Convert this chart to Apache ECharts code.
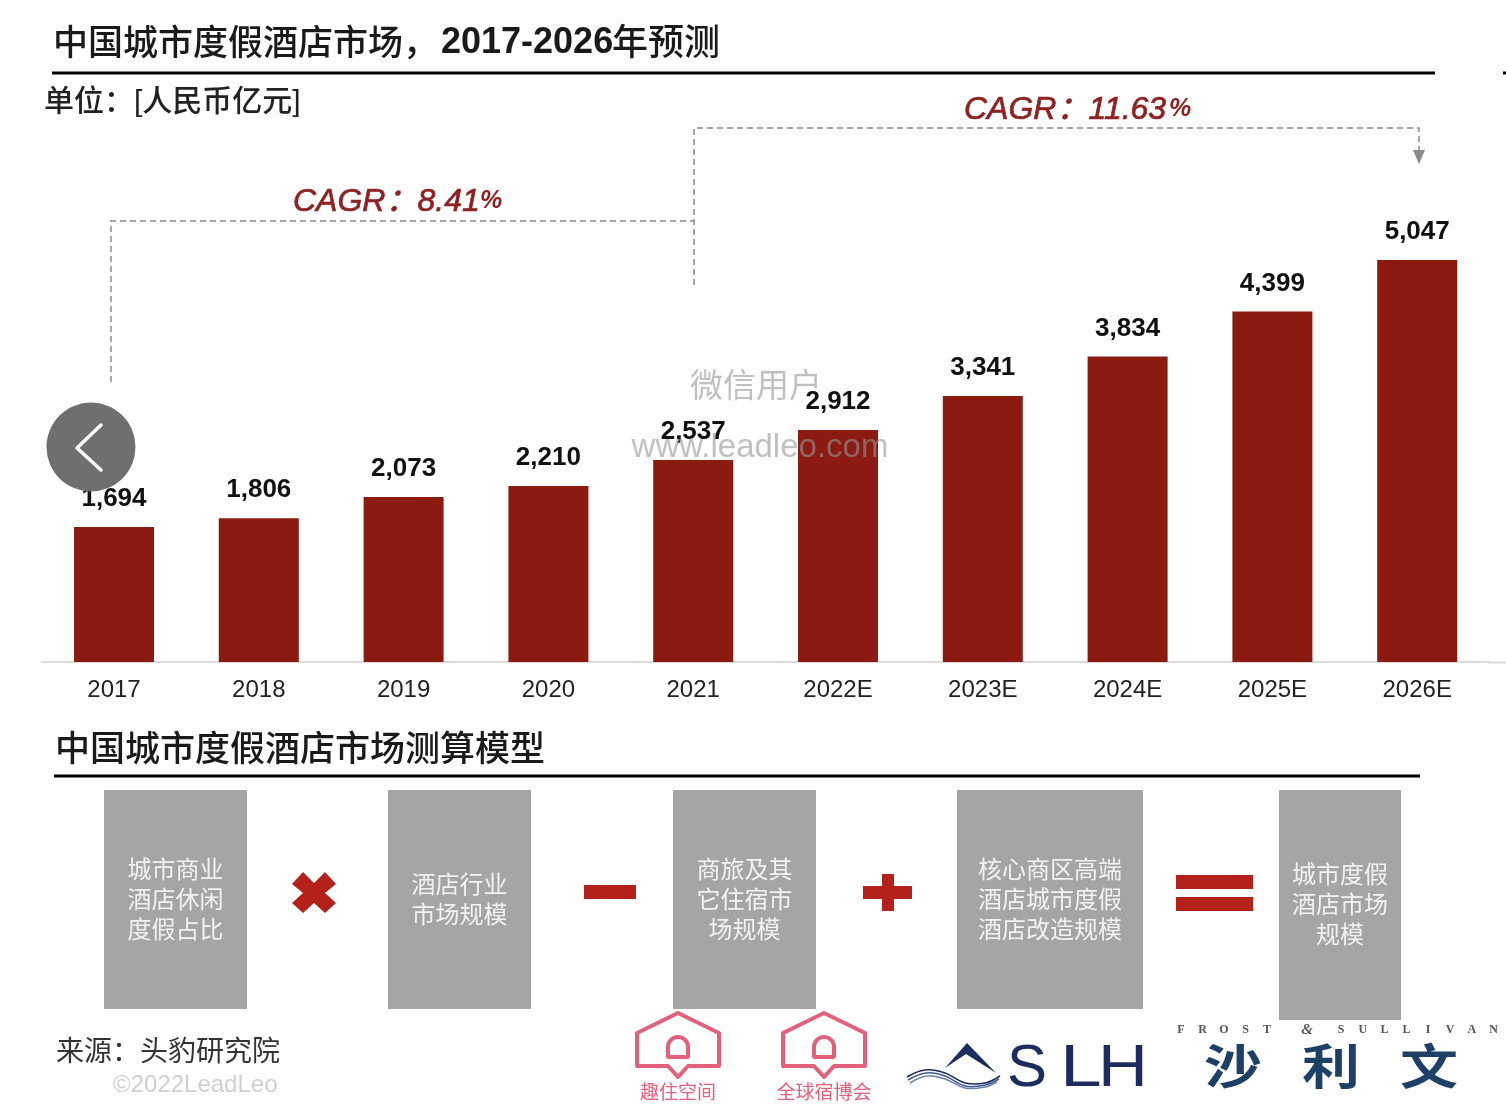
<!DOCTYPE html>
<html>
<head>
<meta charset="utf-8">
<title>中国城市度假酒店市场</title>
<style>
  html, body { margin: 0; padding: 0; background: #fff; }
  #chart { width: 1506px; height: 1112px; }
</style>
<script src="https://cdn.jsdelivr.net/npm/echarts@6/dist/echarts.min.js"></script>
</head>
<body>
<div id="chart"></div>
<script>
const years = ['2017', '2018', '2019', '2020', '2021', '2022E', '2023E', '2024E', '2025E', '2026E'];
const marketSize = [1694, 1806, 2073, 2210, 2537, 2912, 3341, 3834, 4399, 5047];

const titleHead = '中国城市度假酒店市场，';
const titleYears = '2017-2026';
const titleTail = '年预测';
const unitText = '单位：[人民币亿元]';
const modelTitle = '中国城市度假酒店市场测算模型';
const cagrLeft = 'CAGR：8.41';
const cagrRight = 'CAGR：11.63';
const sourceText = '来源：头豹研究院';
const copyrightText = '©2022LeadLeo';

const box1 = ['城市商业', '酒店休闲', '度假占比'];
const box2 = ['酒店行业', '市场规模'];
const box3 = ['商旅及其', '它住宿市', '场规模'];
const box4 = ['核心商区高端', '酒店城市度假', '酒店改造规模'];
const box5 = ['城市度假', '酒店市场', '规模'];

const CJK = '"Liberation Sans", "Noto Sans CJK SC", sans-serif';
const RED = '#b3211a';
const PINK = '#e2607a';
const NAVY = '#1c2c5e';
const CAGR_RED = '#8e2222';

function text(x, y, str, font, fill, align, scaleX, scaleY) {
  return {
    type: 'text', x: x, y: y, z: 50, scaleX: scaleX || 1, scaleY: scaleY || 1,
    style: { text: str, font: font, fill: fill, align: align || 'left', verticalAlign: 'middle' }
  };
}
function cagrText(x, y, str) {
  const el = text(x, y, str, 'italic 32px ' + CJK, CAGR_RED);
  el.style.stroke = CAGR_RED;
  el.style.lineWidth = 0.7;
  return el;
}
function rect(x, y, w, h, fill) {
  return { type: 'rect', z: 20, shape: { x: x, y: y, width: w, height: h }, style: { fill: fill } };
}
function line(points, stroke, width, dash) {
  return {
    type: 'polyline', z: 20, shape: { points: points },
    style: { stroke: stroke, lineWidth: width, lineDash: dash || null, fill: null }
  };
}
function wave(points, stroke, width) {
  return {
    type: 'polyline', z: 20, shape: { points: points, smooth: 0.4 },
    style: { stroke: stroke, lineWidth: width, fill: null }
  };
}
function grayBox(x, y, w, h, lines, firstY) {
  const out = [rect(x, y, w, h, '#a5a5a5')];
  lines.forEach((s, i) => {
    out.push(text(x + w / 2, firstY + i * 30, s, '24px ' + CJK, '#f2f2f2', 'center'));
  });
  return out;
}
function house(cx, label, labelFont) {
  return [
    {
      type: 'polygon', z: 20,
      shape: { points: [[cx, 1013], [cx + 41, 1033], [cx + 41, 1066], [cx + 10, 1066], [cx, 1077], [cx - 10, 1066], [cx - 41, 1066], [cx - 41, 1033]] },
      style: { stroke: PINK, lineWidth: 4, fill: null, lineJoin: 'round' }
    },
    {
      type: 'rect', z: 20,
      shape: { x: cx - 10, y: 1037, width: 20, height: 20, r: [10, 10, 1, 1] },
      style: { stroke: PINK, lineWidth: 4, fill: null }
    },
    text(cx, 1092, label, labelFont, PINK, 'center')
  ];
}

const frost = 'FROST';
const sullivan = 'SULLIVAN';
const frostLetters = frost.split('').map((c, i) =>
  text(1181 + i * 21.5, 1030, c, 'bold 12px "Liberation Serif", serif', '#555', 'center'));
const sullivanLetters = sullivan.split('').map((c, i) =>
  text(1341 + i * 21.8, 1030, c, 'bold 12px "Liberation Serif", serif', '#555', 'center'));

const elements = [
  // headers
  text(53, 45, titleHead, '500 35px ' + CJK, '#1a1a1a'),
  text(441, 43, titleYears, 'bold 36px "Liberation Sans", sans-serif', '#1a1a1a'),
  text(612, 45, titleTail, '500 36px ' + CJK, '#1a1a1a'),
  line([[52, 73], [1435, 73]], '#000', 3),
  line([[1503, 73], [1506, 73]], '#000', 3),
  text(44, 103, unitText, '500 30px ' + CJK, '#222'),
  text(55, 751, modelTitle, '500 35px ' + CJK, '#1a1a1a'),
  line([[54, 776], [1420, 776]], '#000', 3),

  // cagr brackets
  line([[111, 382], [111, 221], [694, 221]], '#8a8a8a', 1.5, [6, 4]),
  line([[694, 285], [694, 128], [1419, 128], [1419, 150]], '#8a8a8a', 1.5, [6, 4]),
  { type: 'polygon', z: 20, shape: { points: [[1413, 150], [1425, 150], [1419, 164]] }, style: { fill: '#8a8a8a' } },
  cagrText(293, 202, cagrLeft),
  text(480, 201, '%', 'italic bold 25px "Liberation Sans Narrow", sans-serif', CAGR_RED),
  cagrText(964, 110, cagrRight),
  text(1169, 109, '%', 'italic bold 25px "Liberation Sans Narrow", sans-serif', CAGR_RED),

  // rest of the axis line past the last band
  line([[1488, 662.5], [1506, 662.5]], '#dcdcdc', 2),

  // watermark
  text(756, 384, '微信用户', '33px "Noto Sans CJK SC", sans-serif', 'rgba(150,150,150,0.6)', 'center'),
  text(760, 448, 'www.leadleo.com', '33px "Liberation Sans", sans-serif', 'rgba(150,150,150,0.6)', 'center'),

  // model boxes
  ...grayBox(104, 790, 143, 219, box1, 871),
  ...grayBox(388, 790, 143, 219, box2, 886),
  ...grayBox(673, 790, 143, 219, box3, 871),
  ...grayBox(957, 790, 186, 219, box4, 871),
  ...grayBox(1279, 790, 122, 230, box5, 876),

  // operators
  {
    type: 'polygon', z: 20,
    shape: { points: [[303, 872], [314, 883], [325, 872], [336, 884], [325, 893], [336, 903], [325, 913], [314, 903], [303, 913], [292, 903], [303, 893], [292, 884]] },
    style: { fill: RED }
  },
  rect(584, 885, 52, 14, RED),
  rect(863, 886, 49, 13, RED),
  rect(882, 874, 12, 37, RED),
  rect(1176, 875, 77, 14, RED),
  rect(1176, 897, 77, 14, RED),

  // footer
  text(56, 1053, sourceText, '28px ' + CJK, '#333'),
  text(113, 1085, copyrightText, '24px "Liberation Sans", sans-serif', '#cfcfcf'),

  // logos
  ...house(678, '趣住空间', '19px "Noto Sans CJK SC", sans-serif'),
  ...house(824, '全球宿博会', '19px "Noto Sans CJK SC", sans-serif'),
  {
    type: 'polygon', z: 20,
    shape: { points: [[967, 1043], [996, 1073], [966, 1054], [945, 1068]] },
    style: { fill: NAVY }
  },
  wave([[907, 1077], [925, 1070], [945, 1073], [965, 1083], [985, 1083], [1000, 1076]], NAVY, 1.5),
  wave([[908, 1080], [926, 1073], [945, 1076], [965, 1086], [985, 1085], [999, 1079]], '#3e5a90', 1.5),
  wave([[910, 1083], [927, 1076], [945, 1079], [965, 1088], [985, 1087], [997, 1082]], '#6d83ad', 1.5),
  text(1007, 1069, 'S', '60px "Liberation Sans", sans-serif', NAVY),
  text(1060, 1069, 'L', '60px "Liberation Sans", sans-serif', NAVY, 'left', 1.25),
  text(1098, 1069, 'H', '60px "Liberation Sans", sans-serif', NAVY, 'left', 1.15),
  ...frostLetters,
  text(1307, 1030, '&', 'italic bold 15px "Liberation Serif", serif', '#555', 'center'),
  ...sullivanLetters,
  text(1233, 1066, '沙', 'bold 58px "Noto Sans CJK SC", sans-serif', '#1f4066', 'center', 1, 0.82),
  text(1331, 1066, '利', 'bold 58px "Noto Sans CJK SC", sans-serif', '#1f4066', 'center', 1, 0.82),
  text(1429, 1066, '文', 'bold 58px "Noto Sans CJK SC", sans-serif', '#1f4066', 'center', 1, 0.82),

  // gallery back button from the screenshot
  { type: 'circle', z: 100, shape: { cx: 91, cy: 447, r: 44.5 }, style: { fill: '#6f6f6f' } },
  {
    type: 'polyline', z: 101,
    shape: { points: [[101, 425], [77, 448], [101, 470]] },
    style: { stroke: '#fff', lineWidth: 3.5, fill: null, lineCap: 'round', lineJoin: 'round' }
  }
];

const chart = echarts.init(document.getElementById('chart'), null, { renderer: 'canvas' });
chart.setOption({
  animation: false,
  backgroundColor: '#fff',
  grid: { left: 41.6, width: 1448, top: 260, height: 402 },
  xAxis: {
    type: 'category',
    data: years,
    axisTick: { show: false },
    axisLine: { lineStyle: { color: '#dcdcdc', width: 2 } },
    axisLabel: { color: '#222', fontSize: 24, margin: 16, fontFamily: '"Liberation Sans", sans-serif' }
  },
  yAxis: { type: 'value', min: 0, max: 5047, show: false },
  series: [{
    type: 'bar',
    data: marketSize,
    barWidth: 80,
    itemStyle: { color: '#8b1a10' },
    z: 5,
    label: {
      show: true,
      position: 'top',
      distance: 15,
      color: '#111',
      fontSize: 26,
      fontWeight: 'bold',
      fontFamily: '"Liberation Sans", sans-serif',
      formatter: p => p.value.toLocaleString('en-US')
    }
  }],
  graphic: { elements: elements }
});
</script>
</body>
</html>
